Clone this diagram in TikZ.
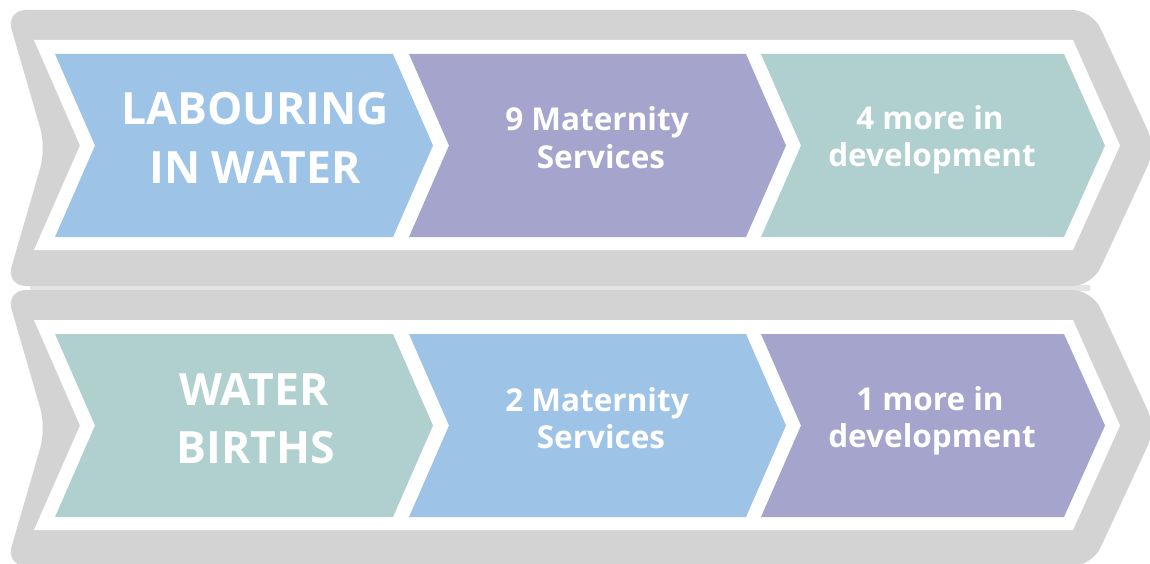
\documentclass[tikz,border=0pt]{standalone}
\usepackage{fontspec}
\newfontfamily\chevfont{Open Sans}
\definecolor{halo}{HTML}{D3D3D3}
\definecolor{seam}{HTML}{E4E4E4}
\definecolor{cblue}{HTML}{9DC3E6}
\definecolor{cpurple}{HTML}{A4A4CC}
\definecolor{cteal}{HTML}{B0CFCF}
\tikzset{
  bigtxt/.style={text=white, anchor=base, font=\chevfont\bfseries\fontsize{44.5}{54}\selectfont, inner sep=0pt},
  smalltxt/.style={text=white, anchor=base, font=\chevfont\bfseries\fontsize{31.5}{36}\selectfont, inner sep=0pt},
  halofill/.style={fill=halo, rounded corners=20},
}
\begin{document}
\begin{tikzpicture}[x=1pt,y=-1pt]
\useasboundingbox (0,0) rectangle (1150,564);
% seam between the two halos
\fill[seam] (30,285) rectangle (1090,291);
\foreach \dy/\ca/\cb/\cc in {0/cblue/cpurple/cteal, 280/cteal/cblue/cpurple}{
  \begin{scope}[yshift=-\dy pt]
    % grey halo
    \path[halofill] (6,10) -- (1092,10) -- (1156,148) -- (1092,286) -- (6,286) -- (46,148) -- cycle;
    % white frame
    \fill[white] (34,40) -- (1073,40) -- (1120,145.5) -- (1073,250) -- (34,250) -- (80,145.5) -- cycle;
    % chevrons
    \fill[\ca] (55,54) -- (393,54) -- (433,145.5) -- (393,237) -- (55,237) -- (95,145.5) -- cycle;
    \fill[\cb] (409,54) -- (746,54) -- (786,145.5) -- (746,237) -- (409,237) -- (449,145.5) -- cycle;
    \fill[\cc] (761,54) -- (1064,54) -- (1105,145.5) -- (1064,237) -- (761,237) -- (801,145.5) -- cycle;
  \end{scope}
}
\node[bigtxt] (t1a) at (255,125) {LABOURING};
\node[bigtxt] (t1b) at (255,183) {IN WATER};
\node[smalltxt] (t2a) at (597,131) {9 Maternity};
\node[smalltxt] (t2b) at (601,168) {Services};
\node[smalltxt] (t3a) at (930,130) {4 more in};
\node[smalltxt] (t3b) at (932,167) {development};
\node[bigtxt] (b1a) at (254,405) {WATER};
\node[bigtxt] (b1b) at (256,463) {BIRTHS};
\node[smalltxt] (b2a) at (597,411) {2 Maternity};
\node[smalltxt] (b2b) at (601,448) {Services};
\node[smalltxt] (b3a) at (930,410) {1 more in};
\node[smalltxt] (b3b) at (932,447) {development};
\end{tikzpicture}
\end{document}
